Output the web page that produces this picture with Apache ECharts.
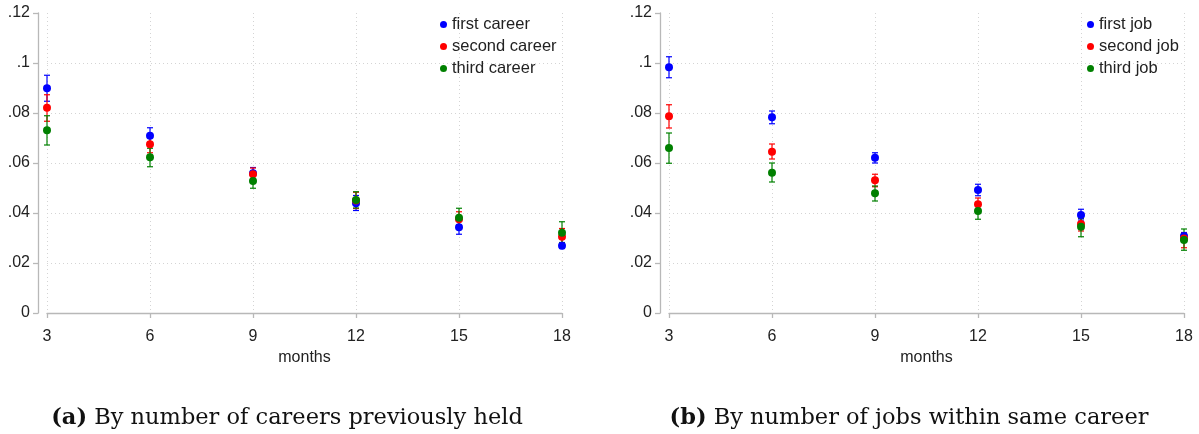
<!DOCTYPE html>
<html>
<head>
<meta charset="utf-8">
<script src="https://cdn.jsdelivr.net/npm/echarts@6/dist/echarts.min.js"></script>
<style>html,body{margin:0;padding:0;background:#fff}#c{width:1199px;height:434px}</style>
</head>
<body>
<div id="c"></div>
<script>
var months = [3, 6, 9, 12, 15, 18];
var yTicks = [0, 0.02, 0.04, 0.06, 0.08, 0.1, 0.12];
var yTickLabels = ['0', '.02', '.04', '.06', '.08', '.1', '.12'];

var careerNames = ['first career', 'second career', 'third career'];
var careerFirst    = [0.0899, 0.0709, 0.0559, 0.0439, 0.0343, 0.0269];
var careerFirstLo  = [0.0847, 0.0680, 0.0535, 0.0410, 0.0315, 0.0258];
var careerFirstHi  = [0.0951, 0.0741, 0.0582, 0.0470, 0.0372, 0.0282];
var careerSecond   = [0.0821, 0.0675, 0.0555, 0.0450, 0.0375, 0.0305];
var careerSecondLo = [0.0767, 0.0641, 0.0530, 0.0418, 0.0345, 0.0276];
var careerSecondHi = [0.0873, 0.0705, 0.0580, 0.0483, 0.0405, 0.0338];
var careerThird    = [0.0731, 0.0623, 0.0528, 0.0452, 0.0381, 0.0321];
var careerThirdLo  = [0.0672, 0.0585, 0.0499, 0.0420, 0.0352, 0.0281];
var careerThirdHi  = [0.0789, 0.0659, 0.0555, 0.0485, 0.0419, 0.0365];

var jobNames = ['first job', 'second job', 'third job'];
var jobFirst    = [0.0983, 0.0783, 0.0621, 0.0492, 0.0392, 0.0308];
var jobFirstLo  = [0.0941, 0.0757, 0.0600, 0.0469, 0.0372, 0.0292];
var jobFirstHi  = [0.1025, 0.0808, 0.0641, 0.0515, 0.0415, 0.0322];
var jobSecond   = [0.0787, 0.0645, 0.0531, 0.0435, 0.0356, 0.0298];
var jobSecondLo = [0.0740, 0.0616, 0.0505, 0.0412, 0.0328, 0.0261];
var jobSecondHi = [0.0833, 0.0676, 0.0555, 0.0460, 0.0379, 0.0319];
var jobThird    = [0.0660, 0.0561, 0.0479, 0.0408, 0.0345, 0.0292];
var jobThirdLo  = [0.0599, 0.0524, 0.0448, 0.0375, 0.0305, 0.0251];
var jobThirdHi  = [0.0720, 0.0600, 0.0508, 0.0439, 0.0379, 0.0336];

var captionA = ['(a)', 'By number of careers previously held'];
var captionB = ['(b)', 'By number of jobs within same career'];

var colors = ['#0000ff', '#ff0000', '#008000'];
var sans = 'Liberation Sans, Arial, Helvetica, sans-serif';
var serif = 'DejaVu Serif, serif';

function errSeries(idx, lo, hi, color) {
  var data = months.map(function (m, i) { return [m, lo[i], hi[i]]; });
  return {
    type: 'custom', xAxisIndex: idx, yAxisIndex: idx, z: 2,
    encode: { x: 0, y: [1, 2] },
    data: data,
    renderItem: function (params, api) {
      var a = api.coord([api.value(0), api.value(1)]);
      var b = api.coord([api.value(0), api.value(2)]);
      var w = 3;
      var st = { stroke: color, lineWidth: 1.2 };
      return {
        type: 'group',
        children: [
          { type: 'line', shape: { x1: a[0], y1: a[1], x2: b[0], y2: b[1] }, style: st },
          { type: 'line', shape: { x1: a[0] - w, y1: a[1], x2: a[0] + w, y2: a[1] }, style: st },
          { type: 'line', shape: { x1: b[0] - w, y1: b[1], x2: b[0] + w, y2: b[1] }, style: st }
        ]
      };
    }
  };
}
function ptSeries(idx, name, vals, color) {
  return {
    type: 'scatter', name: name, xAxisIndex: idx, yAxisIndex: idx, z: 3,
    symbol: 'circle', symbolSize: 8,
    itemStyle: { color: color, opacity: 1 },
    data: months.map(function (m, i) { return [m, vals[i]]; })
  };
}

var series = [];
var groups = [
  [0, careerNames, [careerFirst, careerSecond, careerThird], [careerFirstLo, careerSecondLo, careerThirdLo], [careerFirstHi, careerSecondHi, careerThirdHi]],
  [1, jobNames, [jobFirst, jobSecond, jobThird], [jobFirstLo, jobSecondLo, jobThirdLo], [jobFirstHi, jobSecondHi, jobThirdHi]]
];
groups.forEach(function (g) {
  for (var k = 0; k < 3; k++) {
    series.push(errSeries(g[0], g[3][k], g[4][k], colors[k]));
    series.push(ptSeries(g[0], g[1][k], g[2][k], colors[k]));
  }
});

function xAx(idx) {
  return {
    type: 'value', gridIndex: idx, min: 3, max: 18, interval: 3, offset: 9,
    name: 'months', nameLocation: 'middle', nameGap: 28,
    nameTextStyle: { fontFamily: sans, fontSize: 16, color: '#222' },
    axisLine: { show: true, lineStyle: { color: '#b8b8b8', width: 1.3 } },
    axisTick: { show: true, length: 5, lineStyle: { color: '#b8b8b8', width: 1.3 } },
    axisLabel: { fontFamily: sans, fontSize: 16, color: '#222', margin: 7 },
    splitLine: { show: true, lineStyle: { color: '#d4d4d4', type: [1, 3], width: 1 } }
  };
}
function yAx(idx) {
  return {
    type: 'value', gridIndex: idx, min: 0, max: 0.12, interval: 0.02, offset: 9,
    axisLine: { show: true, lineStyle: { color: '#b8b8b8', width: 1.3 } },
    axisTick: { show: true, length: 5, lineStyle: { color: '#b8b8b8', width: 1.3 } },
    axisLabel: {
      fontFamily: sans, fontSize: 16, color: '#222', margin: 8,
      formatter: function (v) {
        for (var i = 0; i < yTicks.length; i++) if (Math.abs(v - yTicks[i]) < 1e-9) return yTickLabels[i];
        return '';
      }
    },
    splitLine: { show: true, showMinLine: false, showMaxLine: false, lineStyle: { color: '#d4d4d4', type: [1, 3], width: 1 } }
  };
}

var chart = echarts.init(document.getElementById('c'), null, { renderer: 'canvas' });
chart.setOption({
  backgroundColor: '#fff',
  animation: false,
  grid: [
    { left: 47, top: 13, width: 515, height: 300 },
    { left: 669, top: 13, width: 515, height: 300 }
  ],
  xAxis: [xAx(0), xAx(1)],
  yAxis: [yAx(0), yAx(1)],
  legend: [
    { data: careerNames, orient: 'vertical', left: 435, top: 11, itemWidth: 7, itemHeight: 7, itemGap: 5, icon: 'circle',
      textStyle: { fontFamily: sans, fontSize: 16.5, color: '#222' } },
    { data: jobNames, orient: 'vertical', left: 1082, top: 11, itemWidth: 7, itemHeight: 7, itemGap: 5, icon: 'circle',
      textStyle: { fontFamily: sans, fontSize: 16.5, color: '#222' } }
  ],
  title: [
    { text: '{b|' + captionA[0] + '} ' + captionA[1], left: 282, top: 402, textAlign: 'center',
      textStyle: { fontFamily: serif, fontSize: 22.5, fontWeight: 'normal', color: '#111',
        rich: { b: { fontFamily: serif, fontSize: 22.5, fontWeight: 'bold', color: '#111' } } } },
    { text: '{b|' + captionB[0] + '} ' + captionB[1], left: 904, top: 402, textAlign: 'center',
      textStyle: { fontFamily: serif, fontSize: 22.5, fontWeight: 'normal', color: '#111',
        rich: { b: { fontFamily: serif, fontSize: 22.5, fontWeight: 'bold', color: '#111' } } } }
  ],
  series: series
});
</script>
</body>
</html>
